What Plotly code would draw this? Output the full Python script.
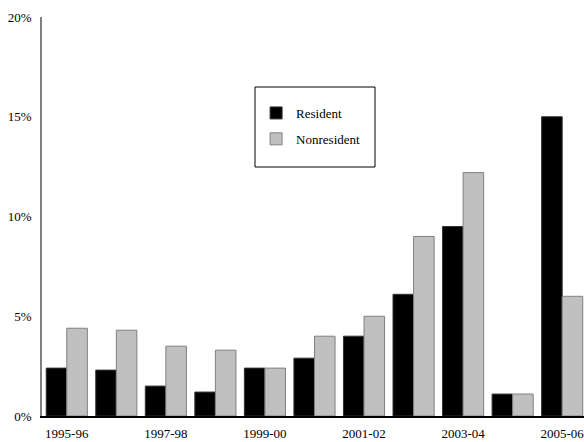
import plotly.graph_objects as go

years = ["1995-96", "1996-97", "1997-98", "1998-99", "1999-00", "2000-01",
         "2001-02", "2002-03", "2003-04", "2004-05", "2005-06"]
resident = [2.4, 2.3, 1.5, 1.2, 2.4, 2.9, 4.0, 6.1, 9.5, 1.1, 15.0]
nonresident = [4.4, 4.3, 3.5, 3.3, 2.4, 4.0, 5.0, 9.0, 12.2, 1.1, 6.0]
tick_labels = ["1995-96", "1997-98", "1999-00", "2001-02", "2003-04", "2005-06"]

serif = "Liberation Serif, Times New Roman, serif"

fig = go.Figure()
fig.add_trace(go.Bar(x=list(range(len(years))), y=resident, name="Resident",
                     legendgroup="res",
                     marker=dict(color="black", line=dict(color="#333333", width=1))))
fig.add_trace(go.Bar(x=list(range(len(years))), y=nonresident, name="Nonresident",
                     legendgroup="non",
                     marker=dict(color="#c0c0c0", line=dict(color="#808080", width=1))))

fig.update_layout(
    width=584, height=442,
    margin=dict(l=42, r=0, t=17, b=26, autoexpand=False),
    plot_bgcolor="white", paper_bgcolor="white",
    barmode="group", bargap=0.17, bargroupgap=0,
    font=dict(family=serif, size=13, color="black"),
    showlegend=True,
    legend=dict(x=0.395, y=0.797, xanchor="left", yanchor="top",
                bgcolor="rgba(0,0,0,0)", font=dict(size=13, family=serif),
                tracegroupgap=6),
    xaxis=dict(range=[-0.5, 10.44], automargin=False,
               tickmode="array",
               tickvals=[years.index(t) for t in tick_labels],
               ticktext=tick_labels, ticklabeloverflow="allow",
               ticklabelstandoff=5,
               showline=True, linecolor="black", linewidth=1.5,
               showgrid=False, ticks="", zeroline=False),
    yaxis=dict(range=[0, 20], automargin=False, tickvals=[0, 5, 10, 15, 20],
               ticktext=["0%", "5%", "10%", "15%", "20%"],
               showline=True, linecolor="#808080", linewidth=1.5,
               showgrid=False, ticks="", zeroline=False, ticklabelstandoff=6),
    shapes=[dict(type="rect", xref="paper", yref="paper",
                 x0=(255 - 42) / 542, x1=(375 - 42) / 542,
                 y0=(416 - 167) / 399, y1=(416 - 87) / 399,
                 line=dict(color="black", width=1))],
)

# drop the default 8px body margin so the figure fills the window
fig.write_html("out.html",
               config={"displayModeBar": False},
               post_script="document.body.style.margin='0';"
                           "document.body.style.overflow='hidden';")
